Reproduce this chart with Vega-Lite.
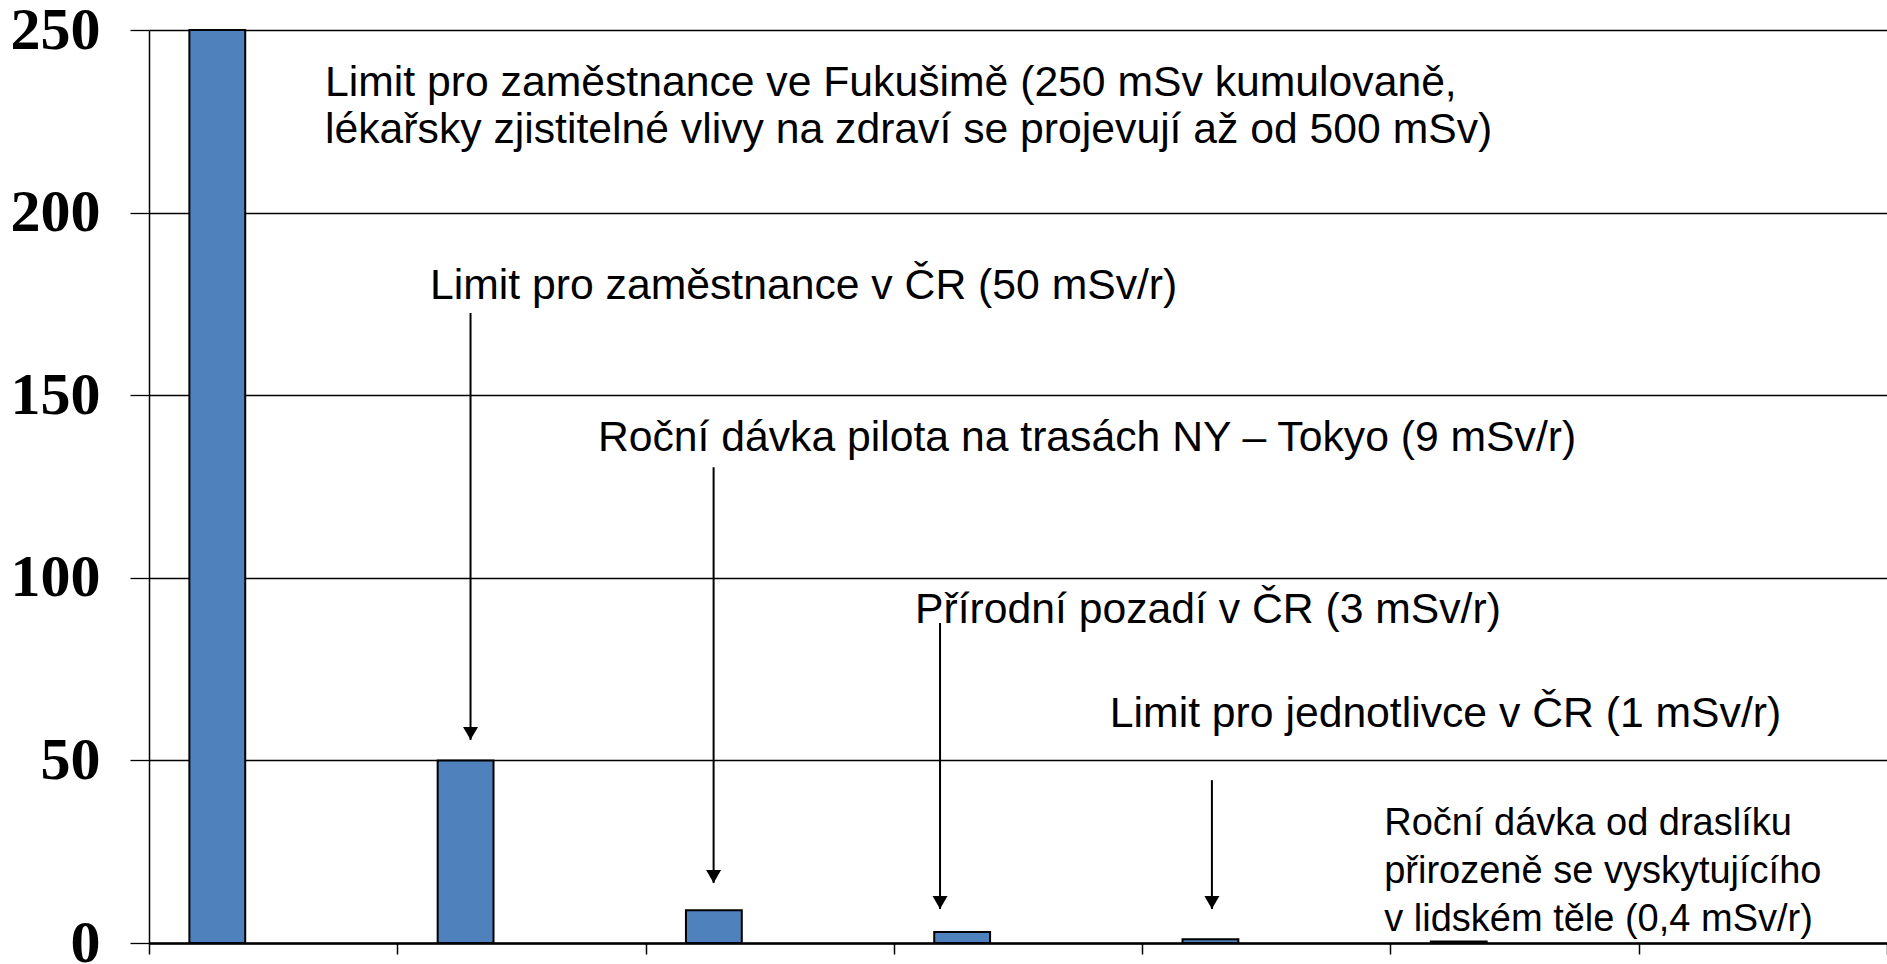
{
  "$schema": "https://vega.github.io/schema/vega-lite/v6.json",
  "width": 1738,
  "height": 913,
  "autosize": {"type": "none"},
  "padding": {"left": 149, "top": 30, "right": 0, "bottom": 21},
  "background": "white",
  "config": {"view": {"stroke": null}, "font": "Liberation Sans"},
  "datasets": {
    "bars": [
      {"cat": "1", "series": "a", "dose": 250},
      {"cat": "2", "series": "a", "dose": 50},
      {"cat": "3", "series": "a", "dose": 9},
      {"cat": "4", "series": "a", "dose": 3},
      {"cat": "5", "series": "a", "dose": 1},
      {"cat": "6", "series": "a", "dose": 0.4}
    ],
    "arrows": [
      {"x": 1.295, "top": 172.5, "tip": 55.6, "head": 57.4},
      {"x": 2.274, "top": 130.3, "tip": 16.4, "head": 18.2},
      {"x": 3.186, "top": 87.6, "tip": 9.3, "head": 11.1},
      {"x": 4.281, "top": 44.6, "tip": 9.3, "head": 11.1}
    ],
    "labels": [
      {"x": 0.709, "y": 235.4, "text": "Limit pro zaměstnance ve Fukušimě (250 mSv kumulovaně,"},
      {"x": 0.709, "y": 222.5, "text": "lékařsky zjistitelné vlivy na zdraví se projevují až od 500 mSv)"},
      {"x": 1.132, "y": 179.8, "text": "Limit pro zaměstnance v ČR (50 mSv/r)"},
      {"x": 1.808, "y": 138.4, "text": "Roční dávka pilota na trasách NY – Tokyo (9 mSv/r)"},
      {"x": 3.085, "y": 91.3, "text": "Přírodní pozadí v ČR (3 mSv/r)"},
      {"x": 3.870, "y": 62.7, "text": "Limit pro jednotlivce v ČR (1 mSv/r)"}
    ],
    "note": [
      {"x": 4.975, "y": 32.5, "text": "Roční dávka od draslíku"},
      {"x": 4.975, "y": 19.4, "text": "přirozeně se vyskytujícího"},
      {"x": 4.975, "y": 6.2, "text": "v lidském těle (0,4 mSv/r)"}
    ]
  },
  "layer": [
    {
      "data": {"name": "bars"},
      "mark": {"type": "bar", "fill": "#4F81BD", "stroke": "black", "strokeWidth": 2},
      "encoding": {
        "x": {
          "field": "cat", "type": "nominal", "title": null,
          "scale": {"domain": ["1", "2", "3", "4", "5", "6", "7"], "paddingInner": 0, "paddingOuter": 0},
          "axis": {"labels": false, "title": null, "tickBand": "extent", "tickSize": 11, "tickColor": "black", "tickWidth": 1.5, "domainColor": "black", "domainWidth": 2.5}
        },
        "xOffset": {
          "field": "series", "type": "nominal",
          "scale": {"domain": ["a", "b", "c"], "paddingInner": 0, "paddingOuter": 0.723}
        },
        "y": {
          "field": "dose", "type": "quantitative", "title": null,
          "scale": {"domain": [0, 250], "nice": false},
          "axis": {
            "values": [0, 50, 100, 150, 200, 250],
            "grid": true, "gridColor": "black", "gridWidth": 1.3, "gridOpacity": 1,
            "tickSize": 19, "tickColor": "black", "tickWidth": 1.3,
            "domainColor": "black", "domainWidth": 1.5,
            "labelFont": "Liberation Serif", "labelFontWeight": "bold", "labelFontSize": 60,
            "labelColor": "black", "labelPadding": 30, "labelOverlap": false, "labelBound": false, "labelFlush": false
          }
        }
      }
    },
    {
      "data": {"name": "arrows"},
      "mark": {"type": "rule", "color": "black", "strokeWidth": 2},
      "encoding": {
        "x": {"field": "x", "type": "quantitative", "scale": {"domain": [0, 7], "nice": false, "zero": false}, "axis": null},
        "y": {"field": "top", "type": "quantitative", "title": null},
        "y2": {"field": "tip"}
      }
    },
    {
      "data": {"name": "arrows"},
      "mark": {"type": "point", "shape": "triangle-down", "filled": true, "color": "black", "opacity": 1, "size": 225},
      "encoding": {
        "x": {"field": "x", "type": "quantitative", "scale": {"domain": [0, 7], "nice": false, "zero": false}, "axis": null},
        "y": {"field": "head", "type": "quantitative", "title": null}
      }
    },
    {
      "data": {"name": "labels"},
      "mark": {"type": "text", "align": "left", "baseline": "middle", "font": "Liberation Sans", "fontSize": 42.7, "color": "black"},
      "encoding": {
        "x": {"field": "x", "type": "quantitative", "scale": {"domain": [0, 7], "nice": false, "zero": false}, "axis": null},
        "y": {"field": "y", "type": "quantitative", "title": null},
        "text": {"field": "text"}
      }
    },
    {
      "data": {"name": "note"},
      "mark": {"type": "text", "align": "left", "baseline": "middle", "font": "Liberation Sans", "fontSize": 38, "color": "black"},
      "encoding": {
        "x": {"field": "x", "type": "quantitative", "scale": {"domain": [0, 7], "nice": false, "zero": false}, "axis": null},
        "y": {"field": "y", "type": "quantitative", "title": null},
        "text": {"field": "text"}
      }
    }
  ],
  "resolve": {"scale": {"x": "independent"}}
}
